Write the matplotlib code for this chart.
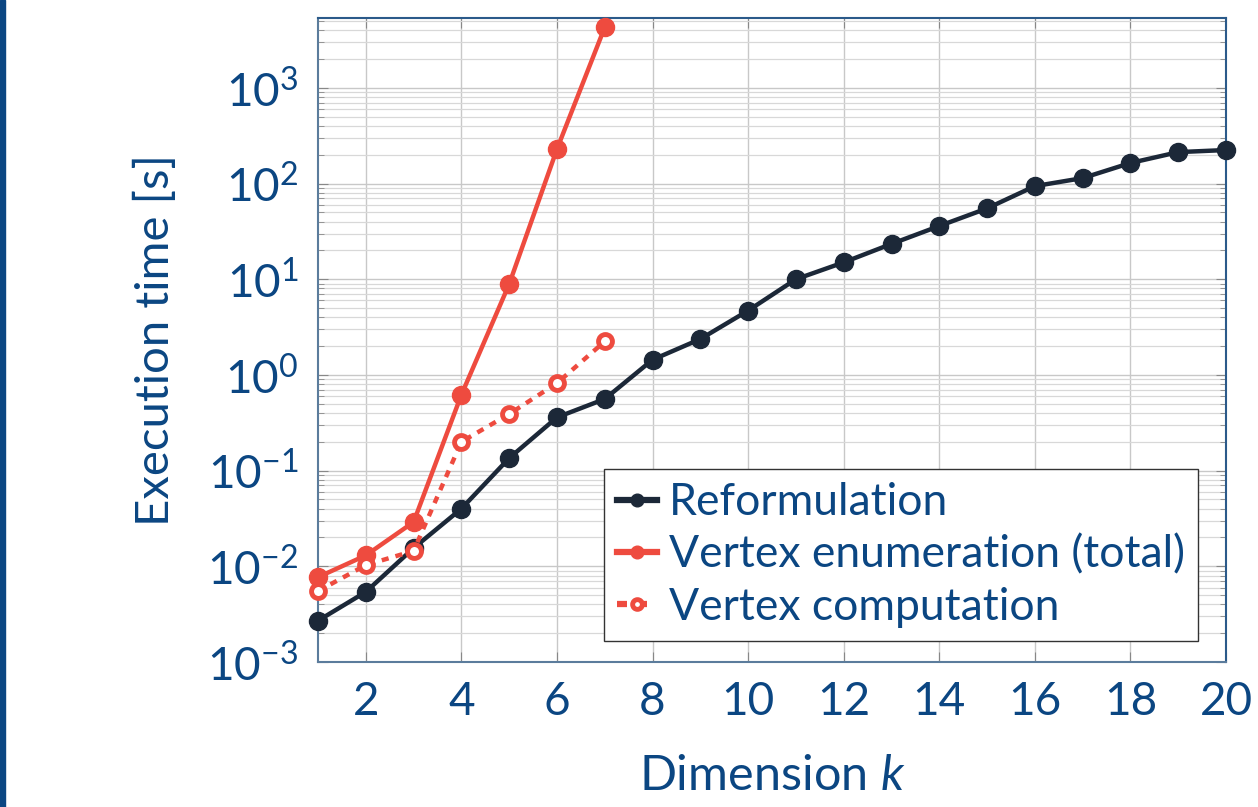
import matplotlib
matplotlib.use('Agg')
import matplotlib.pyplot as plt
from matplotlib.ticker import LogLocator, NullFormatter
from matplotlib.patches import Rectangle

TEXT = '#0b4682'
BLACK = '#1c2838'
RED = '#ee4b3f'

plt.rcParams['font.family'] = ['Lato', 'DejaVu Sans']
plt.rcParams['mathtext.fontset'] = 'custom'
plt.rcParams['mathtext.rm'] = 'Lato'
plt.rcParams['mathtext.it'] = 'Lato:italic'
plt.rcParams['mathtext.default'] = 'regular'

# data
k_reform = list(range(1, 21))
t_reform = [0.0027, 0.0054, 0.0155, 0.040, 0.135, 0.36, 0.56, 1.44, 2.37, 4.7,
            10.0, 15.0, 23.4, 36.0, 55.0, 94.0, 114.0, 164.0, 213.0, 224.0]

k_vertex = list(range(1, 8))
t_vertex_total = [0.0077, 0.013, 0.029, 0.62, 8.9, 229.0, 4300.0]
t_vertex_comp = [0.0055, 0.0103, 0.0145, 0.20, 0.39, 0.82, 2.24]

x_ticks = [2, 4, 6, 8, 10, 12, 14, 16, 18, 20]

fig = plt.figure(figsize=(12.58, 8.07), dpi=100)
ax = fig.add_axes([0.2528, 0.1797, 0.7218, 0.798])

# thin dark strip at the left edge
fig.patches.append(Rectangle((0, 0), 5 / 1258, 1, transform=fig.transFigure,
                             color=TEXT, zorder=0))

ax.plot(k_reform, t_reform, color=BLACK, lw=3.2, marker='o', ms=13,
        label='Reformulation', zorder=5, clip_on=False)
ax.plot(k_vertex, t_vertex_total, color=RED, lw=3.2, marker='o', ms=13,
        label='Vertex enumeration (total)', zorder=4, clip_on=False)
ax.plot(k_vertex, t_vertex_comp, color=RED, lw=3.2, ls=(0, (1.6, 1.6)),
        marker='o', ms=10, mfc='white', mec=RED, mew=3.5,
        label='Vertex computation', zorder=6, clip_on=False)

ax.set_yscale('log')
ax.set_xlim(1, 20)
ax.set_ylim(1e-3, 10 ** 3.73)
ax.set_xticks(x_ticks)
ax.yaxis.set_major_locator(LogLocator(base=10, numticks=10))
ax.yaxis.set_minor_locator(LogLocator(base=10, subs=range(2, 10), numticks=20))
ax.yaxis.set_minor_formatter(NullFormatter())

ax.grid(True, which='major', color='#c8c8c8', lw=1.0)
ax.grid(True, which='minor', axis='y', color='#d8d8d8', lw=0.9)
ax.set_axisbelow(True)

ax.tick_params(which='both', direction='in', top=True, right=True,
               color='#888888', labelcolor=TEXT, labelsize=33, pad=14)
ax.tick_params(which='major', length=7)
ax.tick_params(which='minor', length=4)

for side in ['left', 'bottom']:
    ax.spines[side].set_color('#5b7c9c')
for side in ['top', 'right']:
    ax.spines[side].set_color('#2b5a8a')
for s in ax.spines.values():
    s.set_linewidth(1.5)

ax.set_xlabel('Dimension $\\mathit{k}$', color=TEXT, fontsize=35, labelpad=22)
ax.set_ylabel('Execution time [s]', color=TEXT, fontsize=34, labelpad=22)

leg = ax.legend(loc='lower right', bbox_to_anchor=(0.969, 0.0326),
                fontsize=32, fancybox=False, framealpha=1, edgecolor='#333333',
                handlelength=0.9, handletextpad=0.25, borderpad=0.3,
                labelspacing=0.25, borderaxespad=0, markerscale=0.7)
leg.get_frame().set_linewidth(1.0)
for t in leg.get_texts():
    t.set_color(TEXT)
for h in leg.get_lines():
    h.set_linewidth(4.5)

fig.savefig('out.png', dpi=100)
